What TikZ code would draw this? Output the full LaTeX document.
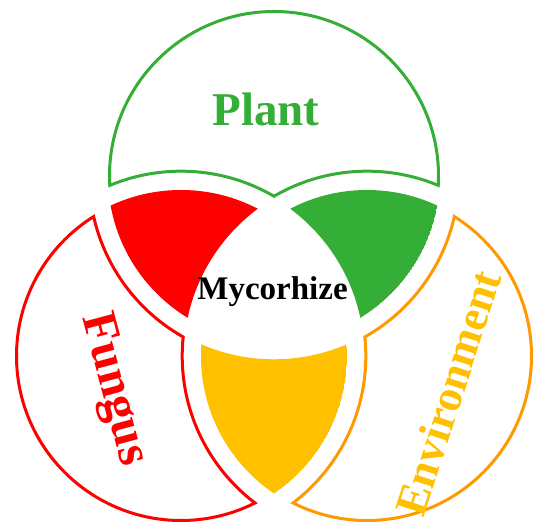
\documentclass[tikz,border=0pt]{standalone}
\usepackage{fontspec}
\setmainfont{Liberation Serif}
\usepackage{tikz}
\usetikzlibrary{positioning}
\definecolor{plantgreen}{RGB}{53,174,55}
\definecolor{fungred}{RGB}{255,0,0}
\definecolor{envorange}{RGB}{255,153,0}
\definecolor{envyellow}{RGB}{255,192,0}
\newcommand{\rin}{166}
\newcommand{\rout}{183.3}
% clockwise frame, so a circle inside it is cut out
\newcommand{\outside}{(-100,-100) -- (-100,700) -- (700,700) -- (700,-100) -- cycle}

\begin{document}
\begin{tikzpicture}[x=1bp,y=1bp,
    ring/.style={line width=6bp},
    lbl/.style={inner sep=0pt, font=\bfseries}]
			\useasboundingbox (0,0) rectangle (535,526);
			\coordinate (P) at (274,350);
			\coordinate (F) at (181,170);
			\coordinate (E) at (367,170);
			
			% single regions, outlined
			\begin{scope}
				\clip (P) circle (\rin);
				\clip \outside (F) circle (\rout);
				\clip \outside (E) circle (\rout);
				\draw[ring, plantgreen] (P) circle (\rin) (F) circle (\rout) (E) circle (\rout);
			\end{scope}
			\begin{scope}
				\clip (F) circle (\rin);
				\clip \outside (P) circle (\rout);
				\clip \outside (E) circle (\rout);
				\draw[ring, fungred] (F) circle (\rin) (P) circle (\rout) (E) circle (\rout);
			\end{scope}
			\begin{scope}
				\clip (E) circle (\rin);
				\clip \outside (P) circle (\rout);
				\clip \outside (F) circle (\rout);
				\draw[ring, envorange] (E) circle (\rin) (P) circle (\rout) (F) circle (\rout);
			\end{scope}
			
			% pairs, filled
			\begin{scope}
				\clip (P) circle (\rin);
				\clip (F) circle (\rin);
				\clip \outside (E) circle (\rout);
				\fill[fungred] (P) circle (\rin);
			\end{scope}
			\begin{scope}
				\clip (P) circle (\rin);
				\clip (E) circle (\rin);
				\clip \outside (F) circle (\rout);
				\fill[plantgreen] (P) circle (\rin);
			\end{scope}
			\begin{scope}
				\clip (F) circle (\rin);
				\clip (E) circle (\rin);
				\clip \outside (P) circle (\rout);
				\fill[envyellow] (F) circle (\rin);
			\end{scope}
			
			\node[lbl, anchor=base, plantgreen, font=\fontsize{47bp}{50bp}\selectfont\bfseries] (plant) at (266,400) {Plant};
			\node[lbl, anchor=base, font=\fontsize{33bp}{36bp}\selectfont\bfseries] (myco) at (272.5,226) {Mycorhize};
			\node[lbl, rotate=-75, fungred, font=\fontsize{49bp}{52bp}\selectfont\bfseries] (fungus) at (113,136) {Fungus};
			\node[lbl, rotate=72, envyellow, font=\fontsize{45bp}{48bp}\selectfont\bfseries] (env) at (448,133) {Environment};
		\end{tikzpicture}
\end{document}
